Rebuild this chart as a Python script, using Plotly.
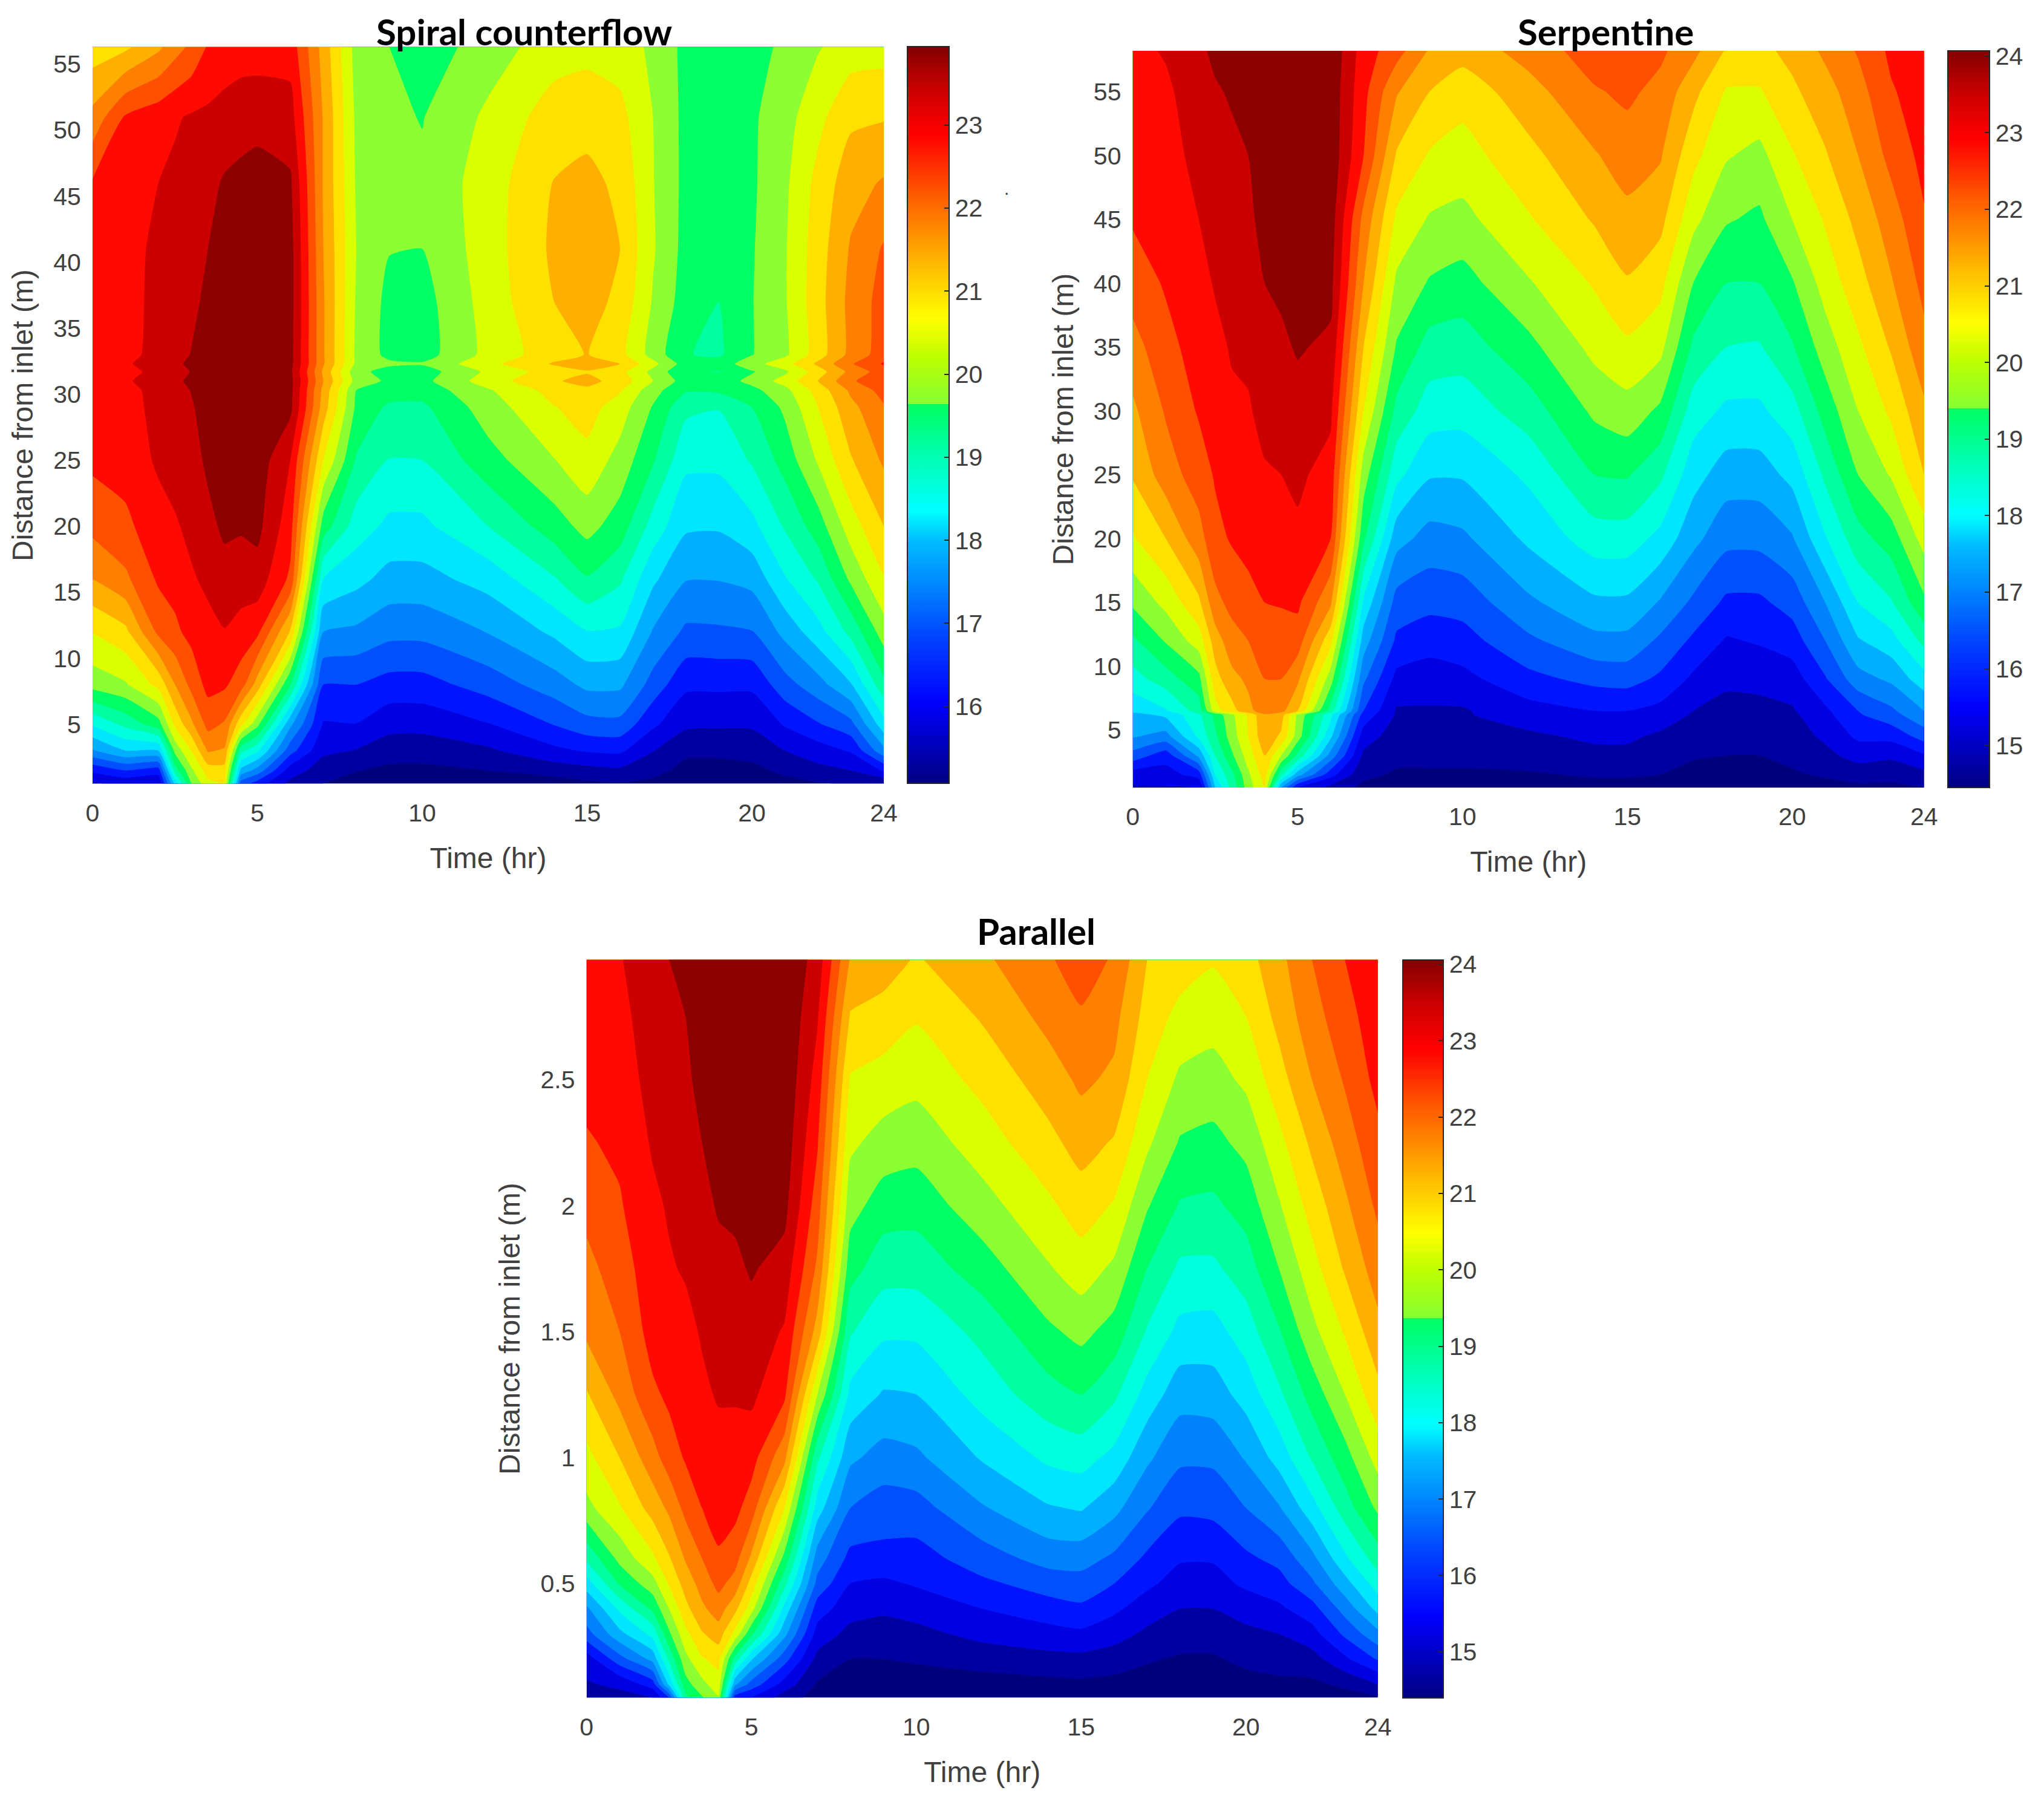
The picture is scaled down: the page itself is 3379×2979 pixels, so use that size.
import plotly.graph_objects as go

W, H = 3379, 2979
PAGE_MARGIN = 8  # the browser's default body margin around the figure
REF_W, REF_H = 1568, 1382
FIG_W, FIG_H = W - 2 * PAGE_MARGIN, H - 2 * PAGE_MARGIN


def fx(px):
    return (px * W / REF_W - PAGE_MARGIN) / FIG_W


def fy(px):
    return 1 - (px * H / REF_H - PAGE_MARGIN) / FIG_H


TIME_HR = [0, 1, 2, 2.5, 3, 3.5, 4, 4.5, 5, 6, 7, 8, 9, 10, 12, 14, 15, 16, 17, 18, 19, 20, 21, 22, 23, 24]
TIME_TICKS = [0, 5, 10, 15, 20, 24]

# ---------- Spiral counterflow: temperature columns, one list per TIME_HR entry ----------
SPIRAL_DIST = [0.5, 1.5, 3, 5, 8, 12, 16, 20, 25, 29, 30.3, 31, 31.7, 32.3, 33, 37, 41, 46, 51, 56.3]
SPIRAL_COLS = [
    [15.7, 16.3, 17.5, 18.5, 19.98, 20.72, 21.6, 22.18, 22.6, 22.68, 22.7, 22.77, 22.7, 22.77, 22.68, 22.66, 22.63, 22.55, 21.74, 20.9],
    [15.85, 16.65, 18.0, 19.03, 20.2, 21.04, 21.96, 22.4, 22.68, 22.77, 22.8, 22.88, 22.8, 22.88, 22.8, 22.77, 22.77, 22.73, 22.55, 21.06],
    [15.8, 16.43, 18.0, 19.62, 20.84, 22.16, 22.57, 22.77, 23.02, 23.09, 23.11, 23.2, 23.09, 23.2, 23.11, 23.09, 23.06, 22.95, 22.77, 21.51],
    [18.14, 19.13, 19.94, 20.79, 21.6, 22.41, 22.66, 22.9, 23.13, 23.2, 23.22, 23.31, 23.2, 23.31, 23.22, 23.2, 23.15, 23.04, 22.9, 21.87],
    [19.8, 20.16, 20.72, 21.51, 22.19, 22.64, 22.9, 23.06, 23.22, 23.36, 23.42, 23.49, 23.42, 23.49, 23.42, 23.29, 23.2, 23.09, 23.0, 22.14],
    [20.57, 20.93, 21.65, 22.2, 22.64, 22.82, 23.04, 23.27, 23.49, 23.58, 23.63, 23.69, 23.63, 23.69, 23.63, 23.51, 23.4, 23.27, 23.04, 22.55],
    [20.7, 20.97, 21.55, 22.0, 22.57, 22.93, 23.22, 23.49, 23.63, 23.72, 23.74, 23.78, 23.74, 23.78, 23.74, 23.67, 23.58, 23.45, 23.13, 22.68],
    [16.88, 17.87, 19.04, 20.84, 22.27, 22.77, 23.18, 23.45, 23.65, 23.74, 23.76, 23.8, 23.76, 23.8, 23.76, 23.72, 23.63, 23.54, 23.18, 22.77],
    [16.43, 17.37, 18.54, 19.94, 21.4, 22.61, 23.2, 23.53, 23.67, 23.76, 23.78, 23.83, 23.78, 23.83, 23.78, 23.74, 23.67, 23.56, 23.27, 22.73],
    [15.62, 15.98, 16.83, 17.66, 19.37, 21.1, 22.41, 22.68, 22.95, 23.51, 23.54, 23.56, 23.51, 23.56, 23.56, 23.58, 23.58, 23.47, 23.13, 22.77],
    [15.3, 15.53, 15.84, 16.16, 16.65, 17.55, 18.45, 19.58, 20.7, 21.38, 21.47, 21.6, 21.51, 21.65, 21.65, 21.65, 21.6, 21.56, 21.56, 21.42],
    [15.12, 15.32, 15.73, 16.19, 16.65, 17.46, 18.14, 18.68, 19.3, 19.71, 19.8, 20.07, 19.94, 20.16, 20.16, 20.2, 20.25, 20.2, 20.16, 20.07],
    [15.08, 15.21, 15.5, 15.91, 16.47, 17.24, 17.84, 18.34, 18.88, 19.26, 19.58, 19.71, 19.62, 19.89, 19.67, 19.67, 19.82, 19.89, 19.89, 19.8],
    [15.08, 15.21, 15.48, 15.91, 16.47, 17.24, 17.84, 18.34, 18.9, 19.26, 19.53, 19.67, 19.58, 19.85, 19.6, 19.62, 19.8, 19.89, 19.78, 19.53],
    [15.08, 15.3, 15.68, 16.18, 16.85, 17.57, 18.18, 18.9, 19.62, 20.03, 20.2, 20.48, 20.34, 20.57, 20.39, 20.45, 20.48, 20.48, 20.34, 20.03],
    [15.08, 15.5, 16.09, 16.67, 17.33, 18.09, 18.86, 19.58, 20.23, 20.68, 20.88, 21.1, 20.93, 21.2, 20.97, 21.15, 21.24, 21.17, 20.93, 20.48],
    [15.21, 15.59, 16.25, 16.94, 17.66, 18.43, 19.31, 19.96, 20.57, 20.88, 21.06, 21.29, 21.11, 21.38, 21.17, 21.33, 21.42, 21.29, 20.97, 20.57],
    [15.26, 15.66, 16.29, 16.97, 17.64, 18.38, 18.97, 19.58, 20.07, 20.48, 20.75, 20.97, 20.84, 21.15, 20.84, 21.04, 21.15, 21.04, 20.84, 20.48],
    [15.19, 15.44, 15.77, 16.29, 16.92, 17.51, 18.09, 18.72, 19.4, 19.76, 19.98, 20.25, 20.12, 20.39, 20.07, 20.21, 20.3, 20.27, 20.25, 20.16],
    [15.08, 15.17, 15.39, 15.84, 16.29, 17.01, 17.57, 18.07, 18.56, 19.0, 19.4, 19.58, 19.4, 19.58, 19.37, 19.58, 19.64, 19.67, 19.67, 19.67],
    [15.08, 15.17, 15.39, 15.82, 16.29, 17.03, 17.57, 18.05, 18.56, 18.92, 19.44, 19.55, 19.33, 19.55, 19.28, 19.35, 19.53, 19.62, 19.67, 19.67],
    [15.08, 15.19, 15.46, 15.82, 16.29, 17.08, 17.69, 18.32, 18.95, 19.35, 19.67, 19.94, 19.76, 20.07, 19.78, 19.78, 19.76, 19.73, 19.73, 19.71],
    [15.17, 15.39, 15.75, 16.25, 16.92, 17.69, 18.41, 18.95, 19.53, 19.89, 20.12, 20.43, 20.16, 20.52, 20.16, 20.21, 20.21, 20.16, 20.07, 19.85],
    [15.26, 15.62, 15.98, 16.61, 17.37, 18.27, 18.95, 19.58, 20.3, 20.7, 20.88, 21.15, 20.93, 21.24, 20.93, 20.97, 20.93, 20.84, 20.57, 20.21],
    [15.35, 15.75, 16.25, 16.97, 17.96, 19.04, 19.89, 20.48, 21.11, 21.47, 21.69, 21.96, 21.74, 22.0, 21.74, 21.74, 21.65, 21.42, 21.06, 20.48],
    [15.39, 16.25, 17.42, 18.27, 19.22, 20.03, 20.68, 21.15, 21.67, 22.0, 22.23, 22.5, 22.28, 22.55, 22.28, 22.23, 22.1, 21.65, 21.11, 20.52],
]

# ---------- Serpentine ----------
SERP_DIST = [0.5, 1.5, 3, 4.5, 6.2, 6.5, 9, 12, 15, 20, 25, 30, 35, 40, 45, 50, 55, 58.2]
SERP_COLS = [
    [15.05, 15.35, 16.4, 17.15, 17.45, 17.7, 18.4, 19.0, 19.7, 20.55, 21.15, 21.5, 21.9, 22.35, 22.65, 22.75, 22.9, 22.95],
    [15.05, 15.4, 15.8, 16.9, 17.7, 18.05, 18.85, 19.65, 20.25, 21.1, 21.85, 22.15, 22.45, 22.65, 22.8, 22.9, 23.0, 23.15],
    [15.1, 15.8, 17.2, 18.2, 18.5, 18.8, 19.45, 20.35, 21.0, 21.9, 22.35, 22.65, 22.8, 22.9, 23.1, 23.25, 23.4, 23.5],
    [17.6, 18.1, 18.6, 19.0, 19.25, 20.4, 20.9, 21.35, 21.95, 22.45, 22.65, 22.85, 22.95, 23.15, 23.3, 23.4, 23.55, 23.7],
    [18.75, 18.95, 19.5, 19.85, 20.0, 20.9, 21.45, 21.9, 22.25, 22.65, 22.85, 23.0, 23.15, 23.25, 23.4, 23.5, 23.65, 23.75],
    [19.85, 20.0, 20.35, 20.6, 20.7, 21.45, 21.7, 22.1, 22.45, 22.75, 22.9, 23.05, 23.2, 23.35, 23.5, 23.6, 23.75, 23.85],
    [20.6, 20.85, 21.1, 21.45, 21.55, 21.85, 22.1, 22.3, 22.6, 22.8, 23.05, 23.25, 23.4, 23.6, 23.75, 23.85, 23.95, 24.0],
    [17.1, 18.7, 20.1, 21.0, 21.35, 21.75, 22.1, 22.3, 22.65, 22.9, 23.1, 23.3, 23.5, 23.7, 23.85, 23.9, 24.0, 24.0],
    [15.6, 17.3, 18.95, 19.85, 20.0, 21.1, 21.7, 22.35, 22.7, 23.0, 23.2, 23.4, 23.65, 23.85, 23.9, 24.0, 24.0, 24.05],
    [14.9, 15.8, 16.9, 17.7, 18.25, 18.85, 19.85, 20.75, 21.7, 22.6, 22.9, 23.2, 23.5, 23.75, 23.85, 23.95, 23.95, 24.0],
    [14.5, 14.7, 15.0, 15.35, 15.9, 16.1, 16.7, 17.35, 18.0, 19.2, 19.85, 20.6, 21.1, 21.6, 21.95, 22.6, 22.75, 22.85],
    [14.45, 14.55, 14.7, 14.85, 15.05, 15.05, 15.45, 16.0, 16.4, 17.3, 18.25, 18.95, 19.55, 20.0, 20.5, 21.05, 21.65, 22.3],
    [14.4, 14.55, 14.7, 14.85, 15.0, 15.05, 15.35, 15.8, 16.25, 16.9, 17.65, 18.35, 18.9, 19.55, 20.05, 20.55, 21.1, 21.55],
    [14.45, 14.55, 14.7, 14.9, 15.05, 15.05, 15.45, 15.9, 16.3, 17.0, 17.65, 18.3, 18.85, 19.4, 19.95, 20.4, 20.8, 21.3],
    [14.4, 14.55, 14.8, 15.0, 15.35, 15.4, 15.95, 16.5, 17.0, 17.7, 18.2, 18.85, 19.45, 20.05, 20.55, 20.95, 21.4, 21.8],
    [14.45, 14.65, 14.95, 15.2, 15.55, 15.6, 16.25, 16.95, 17.5, 18.35, 19.1, 19.7, 20.25, 20.65, 21.15, 21.55, 22.05, 22.35],
    [14.45, 14.65, 14.95, 15.2, 15.55, 15.6, 16.3, 16.95, 17.5, 18.35, 19.15, 19.9, 20.5, 21.05, 21.45, 21.85, 22.2, 22.35],
    [14.45, 14.6, 14.8, 15.0, 15.4, 15.45, 16.0, 16.5, 17.05, 17.95, 18.7, 19.5, 20.25, 20.75, 21.25, 21.65, 21.95, 22.2],
    [14.4, 14.45, 14.65, 14.85, 15.05, 15.1, 15.5, 16.0, 16.5, 17.25, 17.8, 18.35, 19.0, 19.6, 20.25, 20.75, 21.25, 21.75],
    [14.4, 14.45, 14.6, 14.75, 14.9, 14.95, 15.2, 15.55, 16.0, 16.75, 17.35, 18.0, 18.6, 19.1, 19.65, 20.15, 20.55, 21.05],
    [14.4, 14.45, 14.6, 14.75, 14.95, 14.95, 15.25, 15.65, 16.0, 16.75, 17.35, 18.0, 18.55, 19.1, 19.5, 19.95, 20.55, 20.95],
    [14.4, 14.55, 14.7, 14.85, 15.0, 15.05, 15.35, 15.85, 16.3, 17.05, 17.75, 18.4, 19.05, 19.55, 20.1, 20.55, 21.0, 21.25],
    [14.45, 14.65, 14.95, 15.2, 15.45, 15.5, 16.05, 16.6, 17.1, 18.05, 18.7, 19.3, 19.85, 20.3, 20.65, 21.05, 21.4, 21.7],
    [14.5, 14.8, 15.3, 15.7, 16.05, 16.1, 16.9, 17.55, 18.1, 18.9, 19.6, 20.1, 20.5, 20.9, 21.25, 21.6, 21.9, 22.15],
    [14.5, 14.75, 15.2, 15.75, 16.4, 16.5, 17.2, 17.9, 18.55, 19.35, 20.15, 20.7, 21.15, 21.55, 21.85, 22.25, 22.55, 22.7],
    [14.6, 14.95, 15.55, 16.3, 17.0, 17.1, 17.9, 18.75, 19.5, 20.3, 21.1, 21.5, 21.95, 22.25, 22.55, 22.75, 22.85, 22.95],
]

# ---------- Parallel ----------
PAR_DIST = [0.047, 0.1, 0.2, 0.3, 0.4, 0.5, 0.6, 0.8, 1, 1.25, 1.5, 1.75, 2, 2.25, 2.5, 2.75, 2.977]
PAR_COLS = [
    [14.85, 15.05, 15.33, 16.4, 17.0, 17.85, 18.7, 19.95, 20.45, 21.05, 21.7, 21.95, 22.25, 22.55, 22.75, 22.85, 22.95],
    [14.95, 15.2, 16.4, 17.45, 18.2, 19.15, 19.75, 20.55, 21.1, 21.75, 22.1, 22.35, 22.55, 22.7, 22.8, 22.9, 23.05],
    [15.1, 15.85, 17.25, 18.25, 19.2, 19.9, 20.5, 21.3, 21.9, 22.5, 22.8, 22.9, 23.0, 23.15, 23.3, 23.45, 23.55],
    [16.1, 17.7, 18.7, 19.5, 20.1, 20.65, 21.05, 21.7, 22.35, 22.7, 22.85, 23.05, 23.15, 23.3, 23.4, 23.5, 23.6],
    [18.95, 19.4, 19.95, 20.45, 20.95, 21.3, 21.65, 22.25, 22.65, 22.85, 22.95, 23.15, 23.3, 23.4, 23.5, 23.6, 23.75],
    [19.55, 19.95, 20.55, 21.05, 21.5, 21.8, 22.1, 22.6, 22.75, 23.0, 23.15, 23.25, 23.45, 23.6, 23.75, 23.85, 23.95],
    [20.05, 20.4, 20.75, 21.35, 21.85, 22.25, 22.55, 22.75, 22.9, 23.15, 23.3, 23.45, 23.65, 23.8, 23.9, 24.0, 24.05],
    [15.85, 17.2, 18.9, 20.45, 21.25, 21.9, 22.3, 22.75, 22.9, 23.15, 23.35, 23.5, 23.7, 23.85, 24.0, 24.05, 24.05],
    [15.6, 16.4, 17.65, 19.2, 20.3, 20.9, 21.5, 22.35, 22.8, 23.2, 23.4, 23.65, 23.85, 23.95, 24.0, 24.05, 24.05],
    [14.85, 15.4, 16.3, 17.25, 17.95, 18.75, 19.45, 20.6, 21.75, 22.7, 23.05, 23.4, 23.75, 23.9, 24.0, 24.05, 24.05],
    [14.4, 14.55, 14.95, 15.4, 15.85, 16.45, 16.85, 17.85, 18.7, 20.1, 21.4, 22.0, 22.35, 22.65, 22.9, 23.15, 23.4],
    [14.4, 14.45, 14.6, 14.95, 15.3, 15.6, 15.95, 16.6, 17.2, 17.95, 18.65, 19.3, 19.8, 20.2, 20.55, 21.05, 21.55],
    [14.4, 14.4, 14.6, 14.85, 15.2, 15.5, 15.95, 16.35, 16.9, 17.55, 18.2, 18.8, 19.35, 19.9, 20.4, 20.9, 21.35],
    [14.4, 14.4, 14.65, 14.95, 15.3, 15.65, 15.9, 16.4, 17.0, 17.6, 18.2, 18.8, 19.3, 19.8, 20.25, 20.65, 21.05],
    [14.4, 14.4, 14.8, 15.25, 15.6, 16.0, 16.35, 17.05, 17.65, 18.3, 18.75, 19.35, 19.9, 20.35, 20.75, 21.15, 21.5],
    [14.4, 14.45, 14.95, 15.4, 15.9, 16.3, 16.8, 17.55, 18.2, 18.9, 19.5, 20.05, 20.5, 20.95, 21.35, 21.75, 22.05],
    [14.4, 14.5, 14.95, 15.5, 16.0, 16.4, 16.8, 17.65, 18.3, 19.1, 19.75, 20.35, 20.85, 21.3, 21.7, 22.05, 22.3],
    [14.4, 14.45, 14.85, 15.3, 15.7, 16.1, 16.5, 17.25, 17.95, 18.7, 19.4, 20.0, 20.55, 21.05, 21.5, 21.75, 22.05],
    [14.4, 14.4, 14.65, 15.0, 15.35, 15.7, 16.0, 16.65, 17.2, 17.9, 18.55, 19.1, 19.65, 20.2, 20.6, 20.9, 21.1],
    [14.4, 14.4, 14.55, 14.8, 15.1, 15.4, 15.65, 16.2, 16.7, 17.3, 17.95, 18.5, 19.05, 19.55, 20.0, 20.45, 20.85],
    [14.4, 14.45, 14.55, 14.8, 15.1, 15.4, 15.65, 16.25, 16.7, 17.35, 17.9, 18.5, 19.0, 19.45, 19.9, 20.3, 20.65],
    [14.4, 14.45, 14.7, 14.98, 15.3, 15.7, 16.0, 16.6, 17.15, 17.8, 18.35, 18.85, 19.3, 19.75, 20.2, 20.6, 20.9],
    [14.4, 14.5, 14.8, 15.1, 15.5, 15.9, 16.25, 17.05, 17.8, 18.5, 19.05, 19.6, 20.05, 20.45, 20.9, 21.25, 21.45],
    [14.4, 14.5, 14.9, 15.4, 15.9, 16.5, 16.95, 17.9, 18.65, 19.3, 19.95, 20.4, 20.8, 21.2, 21.6, 21.9, 22.1],
    [14.4, 14.7, 15.5, 16.2, 16.8, 17.4, 18.0, 18.85, 19.4, 20.1, 20.65, 21.15, 21.5, 21.85, 22.15, 22.4, 22.6],
    [14.55, 15.1, 16.15, 16.97, 17.75, 18.35, 18.85, 19.7, 20.3, 20.95, 21.45, 21.85, 22.2, 22.46, 22.75, 22.9, 23.05],
]

# Fill colours of the 20 contour bands, low to high
BAND_COLORS = [
    "rgb(0,0,125)", "rgb(0,0,160)", "rgb(0,0,225)", "rgb(0,20,255)", "rgb(0,80,255)",
    "rgb(0,130,255)", "rgb(0,175,255)", "rgb(0,230,255)", "rgb(0,255,220)", "rgb(0,255,160)",
    "rgb(0,255,100)", "rgb(140,255,50)", "rgb(220,255,0)", "rgb(255,225,0)", "rgb(255,175,0)",
    "rgb(255,128,0)", "rgb(255,80,0)", "rgb(255,10,0)", "rgb(205,0,0)", "rgb(140,0,0)",
]
BAND_SCALE = [[i / 19, c] for i, c in enumerate(BAND_COLORS)]

BAR_SCALE = [
    [0, "rgb(0,0,130)"], [0.11, "rgb(0,0,255)"], [0.2, "rgb(0,70,255)"], [0.33, "rgb(0,190,255)"],
    [0.37, "rgb(0,255,255)"], [0.45, "rgb(0,255,170)"], [0.515, "rgb(0,255,95)"], [0.515, "rgb(135,255,50)"],
    [0.58, "rgb(190,255,0)"], [0.63, "rgb(255,255,0)"], [0.7, "rgb(255,190,0)"], [0.8, "rgb(255,90,0)"],
    [0.88, "rgb(255,0,0)"], [0.94, "rgb(205,0,0)"], [1, "rgb(130,0,0)"],
]

INK = "#404040"
TICK_SIZE = 41
TITLE_SIZE = 48
FONT = "Liberation Sans"

PANELS = [
    dict(title="Spiral counterflow", dist=SPIRAL_DIST, cols=SPIRAL_COLS, box=(71, 678, 36, 601), bar=(696, 728),
         start=15.3, size=0.45, end=23.4, bar_range=(15.07, 23.94), bar_ticks=list(range(16, 24)),
         yticks=[5, 10, 15, 20, 25, 30, 35, 40, 45, 50, 55], yticktext=None, title_xy=(402, 24)),
    dict(title="Serpentine", dist=SERP_DIST, cols=SERP_COLS, box=(869, 1476, 39, 604), bar=(1494, 1526),
         start=14.6, size=0.5, end=23.6, bar_range=(14.45, 24.07), bar_ticks=list(range(15, 25)),
         yticks=[5, 10, 15, 20, 25, 30, 35, 40, 45, 50, 55], yticktext=None, title_xy=(1232, 24)),
    dict(title="Parallel", dist=PAR_DIST, cols=PAR_COLS, box=(450, 1057, 736, 1302), bar=(1076, 1107),
         start=14.6, size=0.5, end=23.6, bar_range=(14.4, 24.06), bar_ticks=list(range(15, 25)),
         yticks=[0.5, 1, 1.5, 2, 2.5], yticktext=["0.5", "1", "1.5", "2", "2.5"], title_xy=(795, 714)),
]

fig = go.Figure()
layout_axes = {}
annotations = []

for i, p in enumerate(PANELS, start=1):
    x0, x1, y0, y1 = p["box"]
    xname = "x" if i == 1 else f"x{i}"
    yname = "y" if i == 1 else f"y{i}"
    z = [list(row) for row in zip(*p["cols"])]
    fig.add_trace(go.Contour(
        x=TIME_HR, y=p["dist"], z=z, xaxis=xname, yaxis=yname,
        autocontour=False,
        contours=dict(start=p["start"], end=p["end"], size=p["size"], coloring="fill", showlines=False),
        line=dict(width=0, smoothing=0.5),
        colorscale=BAND_SCALE,
        zauto=False, zmin=p["start"] - p["size"] / 2, zmax=p["end"] + p["size"] / 2,
        showscale=False, name=p["title"],
    ))
    bx0, bx1 = p["bar"]
    lo, hi = p["bar_range"]
    fig.add_trace(go.Scatter(
        x=[12, 12], y=[p["dist"][0], p["dist"][-1]], xaxis=xname, yaxis=yname, mode="markers",
        marker=dict(size=1, opacity=0, color=[lo, hi], cmin=lo, cmax=hi, colorscale=BAR_SCALE, showscale=True,
                    colorbar=dict(
                        x=fx(bx0), xanchor="left", xpad=0, ypad=0,
                        y=fy(y1), yanchor="bottom", len=fy(y0) - fy(y1), lenmode="fraction",
                        thickness=(bx1 - bx0) * W / REF_W, thicknessmode="pixels",
                        outlinecolor="#262626", outlinewidth=2,
                        tickmode="array", tickvals=p["bar_ticks"], ticks="inside", ticklen=9, tickwidth=2,
                        tickcolor="#262626", tickfont=dict(family=FONT, size=TICK_SIZE, color=INK),
                    )),
        showlegend=False, hoverinfo="skip",
    ))
    xkey = "xaxis" if i == 1 else f"xaxis{i}"
    ykey = "yaxis" if i == 1 else f"yaxis{i}"
    layout_axes[xkey] = dict(
        domain=[fx(x0), fx(x1)], range=[0, 24], anchor=yname,
        tickmode="array", tickvals=TIME_TICKS, ticks="outside", tickcolor="white", ticklen=12,
        tickfont=dict(family=FONT, size=TICK_SIZE, color=INK), showgrid=False, zeroline=False, showline=False,
        title=dict(text="Time (hr)", font=dict(family=FONT, size=TITLE_SIZE, color=INK), standoff=35),
    )
    ytick_kw = dict(tickmode="array", tickvals=p["yticks"])
    if p["yticktext"]:
        ytick_kw["ticktext"] = p["yticktext"]
    layout_axes[ykey] = dict(
        domain=[fy(y1), fy(y0)], range=[p["dist"][0], p["dist"][-1]], anchor=xname,
        ticks="outside", tickcolor="white", ticklen=10, **ytick_kw,
        tickfont=dict(family=FONT, size=TICK_SIZE, color=INK), showgrid=False, zeroline=False, showline=False,
        title=dict(text="Distance from inlet (m)", font=dict(family=FONT, size=TITLE_SIZE, color=INK), standoff=18),
    )
    tx, ty = p["title_xy"]
    annotations.append(dict(
        text=f"<b>{p['title']}</b>", x=fx(tx), y=fy(ty), xref="paper", yref="paper",
        xanchor="center", yanchor="middle", showarrow=False,
        font=dict(family="Lato", size=60, color="#000000"),
    ))

annotations.append(dict(text=".", x=fx(772), y=fy(136), xref="paper", yref="paper",
                        showarrow=False, font=dict(family=FONT, size=30, color=INK)))

fig.update_layout(
    width=FIG_W, height=FIG_H, autosize=False,
    margin=dict(l=0, r=0, t=0, b=0, pad=0, autoexpand=False),
    paper_bgcolor="white", plot_bgcolor="white", showlegend=False,
    annotations=annotations, **layout_axes,
)
fig.write_html("out.html")
